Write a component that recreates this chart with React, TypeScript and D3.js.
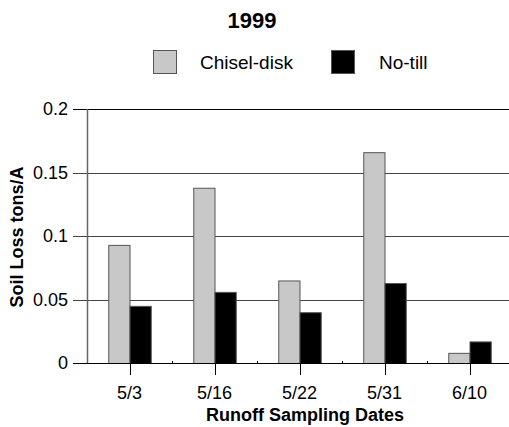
import { useEffect, useRef } from "react";
import * as d3 from "d3";

const categories = ["5/3", "5/16", "5/22", "5/31", "6/10"];
const seriesNames = ["Chisel-disk", "No-till"];
const chiselDisk = [0.093, 0.138, 0.065, 0.166, 0.008];
const noTill = [0.045, 0.056, 0.04, 0.063, 0.017];
const yTicks = [0, 0.05, 0.1, 0.15, 0.2];
const yTickLabels = ["0", "0.05", "0.1", "0.15", "0.2"];

const colors = ["#c8c8c8", "#000000"];

export default function App() {
  const svgRef = useRef<SVGSVGElement>(null);
  const width = 509;
  const height = 427;

  useEffect(() => {
    if (!svgRef.current) return;
    const svg = d3.select(svgRef.current);
    svg.selectAll("*").remove();

    const margin = { top: 109, right: -3, bottom: 64, left: 87 };
    const font = "'Liberation Sans', Arial, sans-serif";

    const x = d3
      .scaleBand<string>()
      .domain(categories)
      .range([margin.left, width - margin.right])
      .paddingInner(0.5)
      .paddingOuter(0.25);

    const y = d3
      .scaleLinear()
      .domain([0, 0.2])
      .range([height - margin.bottom, margin.top]);

    const x1 = d3
      .scaleBand<string>()
      .domain(seriesNames)
      .range([0, x.bandwidth()]);

    // gridlines
    svg
      .append("g")
      .selectAll("line")
      .data(yTicks.slice(1))
      .enter()
      .append("line")
      .attr("x1", margin.left - 14)
      .attr("x2", width)
      .attr("y1", (d) => Math.round(y(d)) + 0.5)
      .attr("y2", (d) => Math.round(y(d)) + 0.5)
      .style("stroke", (d, i) => (i === 3 ? "#000" : "#444"))
      .style("stroke-width", "1px");

    // y tick labels
    svg
      .append("g")
      .selectAll("text")
      .data(yTicks)
      .enter()
      .append("text")
      .attr("x", margin.left - 19)
      .attr("y", (d) => y(d))
      .attr("dy", "0.36em")
      .attr("text-anchor", "end")
      .style("font-family", font)
      .style("font-size", "18px")
      .text((d, i) => yTickLabels[i]);

    // bars
    const data = [chiselDisk, noTill];
    const groups = svg
      .append("g")
      .selectAll("g")
      .data(categories)
      .enter()
      .append("g")
      .attr("transform", (d) => `translate(${x(d)},0)`);

    groups
      .selectAll("rect")
      .data((d, ci) => seriesNames.map((s, si) => ({ s, si, v: data[si][ci] })))
      .enter()
      .append("rect")
      .attr("x", (d) => (x1(d.s) as number) + 0.5)
      .attr("y", (d) => y(d.v) + 0.5)
      .attr("width", x1.bandwidth())
      .attr("height", (d) => y(0) - y(d.v))
      .style("fill", (d) => colors[d.si])
      .style("stroke", "#555")
      .style("stroke-width", "1px");

    // axes
    svg
      .append("line")
      .attr("x1", margin.left + 0.5)
      .attr("x2", margin.left + 0.5)
      .attr("y1", margin.top)
      .attr("y2", y(0))
      .style("stroke", "#666")
      .style("stroke-width", "1.5px");

    svg
      .append("line")
      .attr("x1", margin.left - 14)
      .attr("x2", width)
      .attr("y1", Math.round(y(0)) + 0.5)
      .attr("y2", Math.round(y(0)) + 0.5)
      .style("stroke", "#000")
      .style("stroke-width", "1px");

    // category ticks
    svg
      .append("g")
      .selectAll("line")
      .data(categories)
      .enter()
      .append("line")
      .attr("x1", (d) => Math.round((x(d) as number) + x.bandwidth() / 2) + 0.5)
      .attr("x2", (d) => Math.round((x(d) as number) + x.bandwidth() / 2) + 0.5)
      .attr("y1", y(0))
      .attr("y2", y(0) + 12)
      .style("stroke", "#000")
      .style("stroke-width", "1px");

    // minor ticks between groups
    svg
      .append("g")
      .selectAll("line")
      .data(categories.slice(1))
      .enter()
      .append("line")
      .attr("x1", (d) => Math.round((x(d) as number) - (x.step() - x.bandwidth()) / 2) + 0.5)
      .attr("x2", (d) => Math.round((x(d) as number) - (x.step() - x.bandwidth()) / 2) + 0.5)
      .attr("y1", y(0) - 2)
      .attr("y2", y(0))
      .style("stroke", "#000")
      .style("stroke-width", "1px");

    // category labels
    svg
      .append("g")
      .selectAll("text")
      .data(categories)
      .enter()
      .append("text")
      .attr("x", (d) => (x(d) as number) + x.bandwidth() / 2)
      .attr("y", 399)
      .attr("text-anchor", "middle")
      .style("font-family", font)
      .style("font-size", "18px")
      .text((d) => d);

    // axis titles
    svg
      .append("text")
      .attr("x", 305)
      .attr("y", 421)
      .attr("text-anchor", "middle")
      .style("font-family", font)
      .style("font-size", "18px")
      .style("font-weight", "bold")
      .text("Runoff Sampling Dates");

    svg
      .append("text")
      .attr("transform", `translate(23,237) rotate(-90)`)
      .attr("text-anchor", "middle")
      .style("font-family", font)
      .style("font-size", "18px")
      .style("font-weight", "bold")
      .text("Soil Loss tons/A");

    // title
    svg
      .append("text")
      .attr("x", 252)
      .attr("y", 28)
      .attr("text-anchor", "middle")
      .style("font-family", font)
      .style("font-size", "22px")
      .style("font-weight", "bold")
      .text("1999");

    // legend
    const legendX = [153, 331];
    const legend = svg
      .append("g")
      .selectAll("g")
      .data(seriesNames)
      .enter()
      .append("g")
      .attr("transform", (d, i) => `translate(${legendX[i]},50)`);

    legend
      .append("rect")
      .attr("x", 0.5)
      .attr("y", 0.5)
      .attr("width", 23)
      .attr("height", 23)
      .style("fill", (d, i) => colors[i])
      .style("stroke", "#555")
      .style("stroke-width", "1px");

    legend
      .append("text")
      .attr("x", (d, i) => (i === 0 ? 47 : 48))
      .attr("y", 19)
      .style("font-family", font)
      .style("font-size", "19px")
      .text((d) => d);
  }, []);

  return (
    <svg
      ref={svgRef}
      width={width}
      height={height}
      style={{ position: "absolute", left: 0, top: 0, background: "#fff" }}
    ></svg>
  );
}
